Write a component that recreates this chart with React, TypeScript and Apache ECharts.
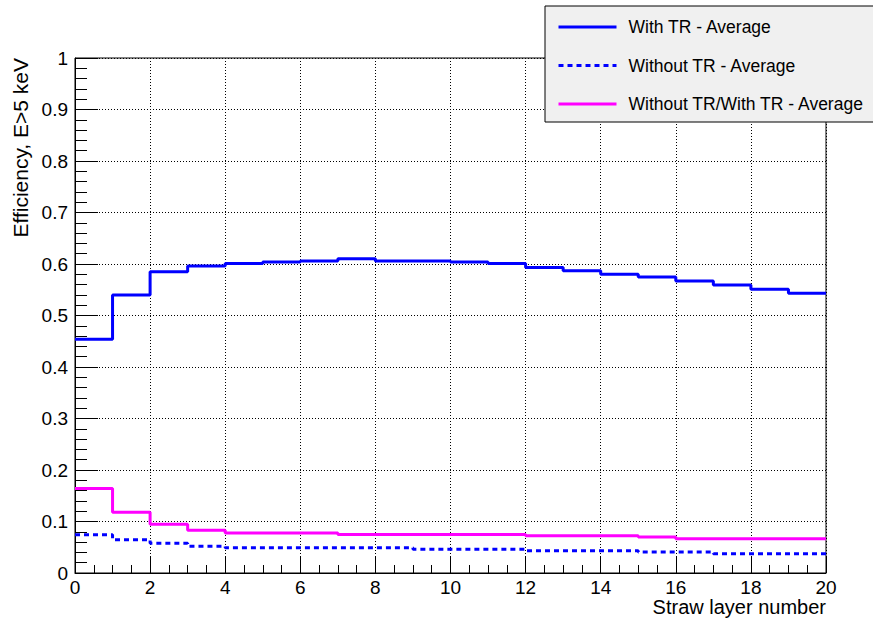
import React, { useEffect, useRef } from "react";
import * as echarts from "echarts";

// Bin lower edges 0..19 (straw layer number), bin width 1
const binEdges = [0, 1, 2, 3, 4, 5, 6, 7, 8, 9, 10, 11, 12, 13, 14, 15, 16, 17, 18, 19, 20];
const withTR = [0.454, 0.54, 0.585, 0.596, 0.601, 0.604, 0.606, 0.61, 0.606, 0.606, 0.604, 0.601, 0.593, 0.587, 0.58, 0.575, 0.567, 0.559, 0.551, 0.543];
const withoutTR = [0.0744, 0.0647, 0.0576, 0.052, 0.049, 0.049, 0.049, 0.049, 0.049, 0.046, 0.046, 0.046, 0.0433, 0.0433, 0.0433, 0.0408, 0.0408, 0.0375, 0.0375, 0.0375];
const ratio = [0.164, 0.118, 0.0945, 0.083, 0.0777, 0.0777, 0.0777, 0.075, 0.075, 0.075, 0.075, 0.075, 0.0725, 0.0725, 0.0725, 0.07, 0.0667, 0.0667, 0.0667, 0.0667];
const seriesNames = ["With TR - Average", "Without TR - Average", "Without TR/With TR - Average"];
const xTitle = "Straw layer number";
const yTitle = "Efficiency, E>5 keV";

function toSteps(vals: number[]) {
  const pts = vals.map((v, i) => [binEdges[i], v]);
  pts.push([binEdges[vals.length], vals[vals.length - 1]]);
  return pts;
}

const FONT = "'Liberation Sans', Arial, Helvetica, sans-serif";

export default function App() {
  const ref = useRef<HTMLDivElement>(null);
  useEffect(() => {
    if (!ref.current) return;
    const chart = echarts.init(ref.current, null, { renderer: "svg" });
    const left = 75, top = 58, right = 47, bottom = 50;
    chart.setOption({
      animation: false,
      backgroundColor: "#ffffff",
      textStyle: { fontFamily: FONT },
      grid: {
        left, top, right, bottom,
        show: true,
        borderColor: "#000",
        borderWidth: 1,
        backgroundColor: "#ffffff",
        containLabel: false,
      },
      legend: {
        orient: "vertical",
        left: 545,
        top: 6,
        padding: [11, 30, 8, 12],
        itemWidth: 58,
        itemHeight: 20,
        itemGap: 18.5,
        backgroundColor: "#f0f0f0",
        borderColor: "#000",
        borderWidth: 1,
        itemStyle: { opacity: 0 },
        lineStyle: { width: 3 },
        textStyle: { fontFamily: FONT, fontSize: 17.5, color: "#000", padding: [0, 0, 0, 7], lineHeight: 20 },
        data: seriesNames,
      },
      xAxis: {
        type: "value",
        min: 0,
        max: 20,
        interval: 2,
        axisLine: { show: true, lineStyle: { color: "#000", width: 1 } },
        axisTick: { show: true, inside: true, length: 16, lineStyle: { color: "#000" } },
        minorTick: { show: true, splitNumber: 4, length: 8, lineStyle: { color: "#000" } },
        axisLabel: { color: "#000", fontSize: 19, fontFamily: FONT, margin: 5 },
        splitLine: { show: true, lineStyle: { color: "#000", width: 1, type: [1, 2] } },
      },
      yAxis: {
        type: "value",
        min: 0,
        max: 1,
        interval: 0.1,
        axisLine: { show: true, lineStyle: { color: "#000", width: 1 } },
        axisTick: { show: true, inside: true, length: 23, lineStyle: { color: "#000" } },
        minorTick: { show: true, splitNumber: 5, length: 12, lineStyle: { color: "#000" } },
        axisLabel: { color: "#000", fontSize: 19, fontFamily: FONT, margin: 7 },
        splitLine: { show: true, lineStyle: { color: "#000", width: 1, type: [1, 2] } },
      },
      series: [
        {
          name: seriesNames[0],
          type: "line",
          step: "end",
          symbol: "none",
          data: toSteps(withTR),
          lineStyle: { color: "#0000ff", width: 3 },
          itemStyle: { color: "#0000ff" },
        },
        {
          name: seriesNames[1],
          type: "line",
          step: "end",
          symbol: "none",
          data: toSteps(withoutTR),
          lineStyle: { color: "#0000ff", width: 3, type: [5, 4] },
          itemStyle: { color: "#0000ff" },
        },
        {
          name: seriesNames[2],
          type: "line",
          step: "end",
          symbol: "none",
          data: toSteps(ratio),
          lineStyle: { color: "#ff00ff", width: 3 },
          itemStyle: { color: "#ff00ff" },
        },
      ],
      graphic: [
        {
          type: "text",
          x: 20,
          y: 58,
          rotation: Math.PI / 2,
          style: {
            text: yTitle,
            fontSize: 21,
            fontFamily: FONT,
            fill: "#000",
            textAlign: "right",
            textVerticalAlign: "middle",
          },
        },
        {
          type: "text",
          x: 826,
          y: 607,
          style: {
            text: xTitle,
            fontSize: 20,
            fontFamily: FONT,
            fill: "#000",
            textAlign: "right",
            textVerticalAlign: "middle",
          },
        },
      ],
    });
    return () => chart.dispose();
  }, []);
  return (
    <div
      ref={ref}
      style={{ position: "fixed", left: 0, top: 0, width: 873, height: 623, background: "#fff" }}
    />
  );
}
